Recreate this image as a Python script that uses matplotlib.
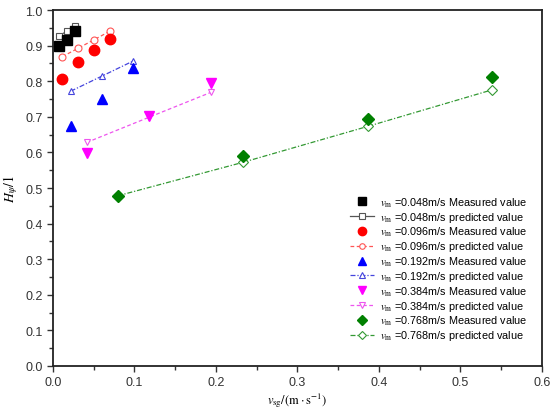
import matplotlib
matplotlib.use("Agg")
import matplotlib.pyplot as plt
from matplotlib.ticker import MultipleLocator

plt.rcParams['font.family'] = ['Liberation Sans', 'DejaVu Sans']
plt.rcParams['mathtext.fontset'] = 'stix'

# velocities of the series (legend labels)
speeds = ["0.048", "0.096", "0.192", "0.384", "0.768"]

# x values per series and measured / predicted H values
x_048 = [0.0074, 0.0168, 0.0266]
meas_048 = [0.900, 0.916, 0.940]
pred_048 = [0.928, 0.940, 0.954]

x_096 = [0.0114, 0.031, 0.0507, 0.070]
meas_096 = [0.807, 0.853, 0.888, 0.919]
pred_096 = [0.869, 0.893, 0.917, 0.941]

x_192 = [0.0217, 0.0605, 0.0985]
meas_192 = [0.675, 0.750, 0.837]
pred_192 = [0.772, 0.815, 0.857]

x_384 = [0.0413, 0.118, 0.194]
meas_384 = [0.598, 0.703, 0.795]
pred_384 = [0.628, 0.699, 0.769]

x_768 = [0.0794, 0.2328, 0.386, 0.539]
meas_768 = [0.478, 0.589, 0.694, 0.811]
pred_768 = [0.478, 0.572, 0.673, 0.776]

series = [
    (x_048, meas_048, pred_048, 's', 'black', '#555555', '-'),
    (x_096, meas_096, pred_096, 'o', 'red', '#ff5555', (0, (3, 2))),
    (x_192, meas_192, pred_192, '^', 'blue', '#4444dd', (0, (4, 1.5, 1, 1.5))),
    (x_384, meas_384, pred_384, 'v', '#ff00ff', '#ee55ee', (0, (3, 2))),
    (x_768, meas_768, pred_768, 'D', 'green', '#339933', (0, (4, 1.5, 1, 1.5))),
]

fig = plt.figure(figsize=(5.55, 4.1), dpi=100)
ax = fig.add_axes([0.0955, 0.105, 0.881, 0.868])

vm = r'$v_{\mathrm{m}}$'
for (x, meas, pred, mk, col, lcol, ls), sp in zip(series, speeds):
    msize = 6.5 if mk == 'D' else 7.5
    ax.plot(x, pred, linestyle=ls, color=lcol, lw=0.9, marker=mk,
            markersize=5, markerfacecolor='white', markeredgecolor=lcol,
            markeredgewidth=0.8, zorder=2,
            label=f'{vm} =' + f'{sp}m/s predicted value')
    ax.plot(x, meas, linestyle='none', marker=mk, markersize=msize,
            color=col, zorder=3,
            label=f'{vm} =' + f'{sp}m/s Measured value')

# reorder legend: measured then predicted for each speed
handles, labels = ax.get_legend_handles_labels()
order = []
for i in range(len(speeds)):
    order += [2 * i + 1, 2 * i]
ax.legend([handles[i] for i in order], [labels[i] for i in order],
          loc='lower right', bbox_to_anchor=(0.985, 0.045), frameon=False,
          fontsize=7.8, labelspacing=0.1, handlelength=2.2,
          handletextpad=0.5, borderpad=0.2, markerscale=0.8)

ax.set_xlim(0, 0.6)
ax.set_ylim(0, 1.0)
ax.xaxis.set_major_locator(MultipleLocator(0.1))
ax.xaxis.set_minor_locator(MultipleLocator(0.05))
ax.yaxis.set_major_locator(MultipleLocator(0.1))
ax.yaxis.set_minor_locator(MultipleLocator(0.05))
ax.xaxis.set_major_formatter(plt.FormatStrFormatter('%.1f'))
ax.yaxis.set_major_formatter(plt.FormatStrFormatter('%.1f'))
ax.tick_params(which='both', direction='out', top=False, right=False,
               labelsize=9, colors='#333333', width=1.0)
ax.tick_params(which='major', length=4)
ax.tick_params(which='minor', length=3)
for side in ['left', 'bottom', 'top', 'right']:
    ax.spines[side].set_linewidth(1.3)
    ax.spines[side].set_color('#222222')

ax.set_xlabel(r'$v_{\mathrm{sg}}$' + r'$\mathrm{/(m\cdot s^{-1})}$',
              fontsize=9, labelpad=1)
ax.set_ylabel(r'$H_{\psi}/1$', fontsize=10, labelpad=4)

fig.savefig('out.png', dpi=100)
